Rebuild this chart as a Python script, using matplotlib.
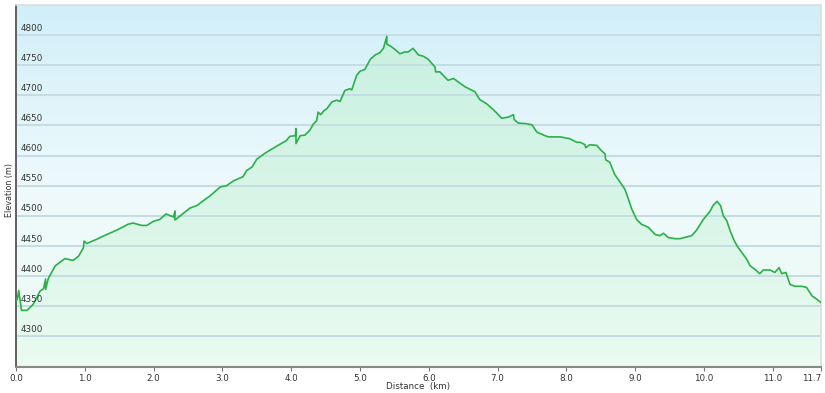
import numpy as np
import matplotlib
matplotlib.use("Agg")
import matplotlib.pyplot as plt
from matplotlib.colors import LinearSegmentedColormap

plt.rcParams["font.family"] = ["DejaVu Sans"]

# profile (km, m); repeated distances are the GPS spikes
distance_km = [
    0.00, 0.02, 0.04, 0.08, 0.16, 0.25, 0.35, 0.40, 0.43, 0.43, 0.47, 0.57,
    0.71, 0.83, 0.91, 0.98, 0.99, 1.03, 1.17, 1.32, 1.46, 1.63, 1.70, 1.83,
    1.90, 2.00, 2.09, 2.18, 2.29, 2.31, 2.31, 2.43, 2.53, 2.63, 2.72, 2.82,
    2.97, 3.06, 3.16, 3.30, 3.35, 3.43, 3.50, 3.62, 3.72, 3.81, 3.93, 3.98,
    4.06, 4.07, 4.07, 4.13, 4.20, 4.27, 4.32, 4.37, 4.39, 4.43, 4.48, 4.52,
    4.59, 4.66, 4.71, 4.78, 4.85, 4.88, 4.95, 5.00, 5.07, 5.15, 5.22, 5.29,
    5.34, 5.39, 5.39, 5.44, 5.51, 5.58, 5.65, 5.70, 5.77, 5.85, 5.92, 5.99,
    6.09, 6.10, 6.16, 6.28, 6.36, 6.43, 6.53, 6.60, 6.67, 6.74, 6.84, 6.94,
    7.06, 7.16, 7.23, 7.24, 7.30, 7.42, 7.50, 7.57, 7.69, 7.74, 7.91, 8.05,
    8.15, 8.20, 8.27, 8.28, 8.34, 8.44, 8.51, 8.56, 8.57, 8.63, 8.70, 8.78,
    8.85, 8.90, 8.95, 9.02, 9.09, 9.19, 9.29, 9.36, 9.41, 9.48, 9.58, 9.65,
    9.75, 9.82, 9.89, 9.99, 10.09, 10.13, 10.19, 10.24, 10.28, 10.33, 10.38,
    10.43, 10.48, 10.55, 10.62, 10.67, 10.74, 10.81, 10.86, 10.96, 11.03,
    11.09, 11.13, 11.19, 11.25, 11.32, 11.42, 11.49, 11.57, 11.61, 11.70,
]
elevation_m = [
    4358, 4362, 4376, 4343, 4343, 4353, 4375, 4379, 4395, 4378, 4396, 4417,
    4429, 4426, 4433, 4447, 4458, 4454, 4461, 4469, 4476, 4486, 4488, 4484,
    4484, 4491, 4494, 4503, 4498, 4508, 4493, 4504, 4513, 4517, 4525, 4533,
    4548, 4550, 4558, 4565, 4575, 4581, 4594, 4604, 4611, 4617, 4625, 4632,
    4633, 4645, 4620, 4633, 4634, 4642, 4652, 4658, 4672, 4668, 4675, 4678,
    4689, 4692, 4690, 4708, 4711, 4709, 4733, 4740, 4743, 4760, 4767, 4771,
    4778, 4798, 4785, 4782, 4776, 4769, 4772, 4772, 4778, 4767, 4765, 4760,
    4747, 4739, 4739, 4725, 4728, 4722, 4714, 4710, 4706, 4693, 4686, 4676,
    4662, 4664, 4668, 4660, 4654, 4653, 4651, 4639, 4633, 4631, 4631, 4628,
    4622, 4622, 4618, 4613, 4618, 4617, 4608, 4603, 4593, 4589, 4569, 4556,
    4544, 4528, 4511, 4494, 4486, 4481, 4469, 4467, 4471, 4464, 4462, 4462,
    4465, 4467, 4476, 4494, 4508, 4517, 4524, 4517, 4500, 4492, 4475,
    4461, 4450, 4439, 4428, 4417, 4411, 4404, 4410, 4410, 4406,
    4414, 4404, 4406, 4386, 4383, 4383, 4381, 4367, 4364, 4356,
]

x_ticks = [0, 1, 2, 3, 4, 5, 6, 7, 8, 9, 10, 11, 11.7]
x_tick_labels = ["0.0", "1.0", "2.0", "3.0", "4.0", "5.0", "6.0", "7.0",
                 "8.0", "9.0", "10.0", "11.0", "11.7"]
y_grid = [4300, 4350, 4400, 4450, 4500, 4550, 4600, 4650, 4700, 4750, 4800]

X_MAX, Y_MIN, Y_MAX = 11.7, 4249, 4850

fig = plt.figure(figsize=(8.25, 3.93), dpi=100)
ax = fig.add_axes([16 / 825, 1 - 367 / 393, 805 / 825, 362 / 393])
ax.set_xlim(0, X_MAX)
ax.set_ylim(Y_MIN, Y_MAX)

# background: light blue at top fading to pale green at the bottom
bg = LinearSegmentedColormap.from_list(
    "bg", ["#eefcf4", "#eef9fc", "#d1eff9"])
grad = np.linspace(0, 1, 256).reshape(-1, 1)
ax.imshow(grad, cmap=bg, aspect="auto", origin="lower",
          extent=[0, X_MAX, Y_MIN, Y_MAX], zorder=0)

# green gradient under the profile, clipped to the filled area
poly = ax.fill_between(distance_km, elevation_m, Y_MIN, color="none", zorder=1)
fg = LinearSegmentedColormap.from_list("fg", ["#eafbf1", "#d8f6e8", "#c9f0e1"])
im = ax.imshow(grad, cmap=fg, aspect="auto", origin="lower",
               extent=[0, X_MAX, Y_MIN, 4800], zorder=1)
path = poly.get_paths()[0]
im.set_clip_path(path, transform=ax.transData)

for yv in y_grid:
    ax.axhline(yv, color="#c4dde2", lw=1.4, zorder=2)
    ax.text(0.06, yv + 4, str(yv), fontsize=6.3, color="#333333",
            va="bottom", ha="left", zorder=4)

ax.plot(distance_km, elevation_m, color="#2bb04a", lw=1.2, zorder=3)

ax.set_xticks(x_ticks)
ax.set_xticklabels(x_tick_labels, fontsize=6.3, color="#333333")
ax.get_xticklabels()[-1].set_horizontalalignment("right")
ax.set_yticks([])
ax.tick_params(axis="x", length=3, width=0.8, color="#777777", pad=2)

for side in ("top", "right"):
    ax.spines[side].set_color("#dddddd")
    ax.spines[side].set_linewidth(1.2)
ax.spines["left"].set_color("#555555")
ax.spines["left"].set_linewidth(1.3)
ax.spines["bottom"].set_color("#888888")
ax.spines["bottom"].set_linewidth(1.5)

fig.text(10 / 825, 1 - 190 / 393, "Elevation (m)", rotation=90, fontsize=5.8,
         color="#333333", ha="center", va="center")
fig.text(418 / 825, 1 - 387 / 393, "Distance  (km)", fontsize=6.3,
         color="#333333", ha="center", va="center")

fig.savefig("out.png", dpi=100)
